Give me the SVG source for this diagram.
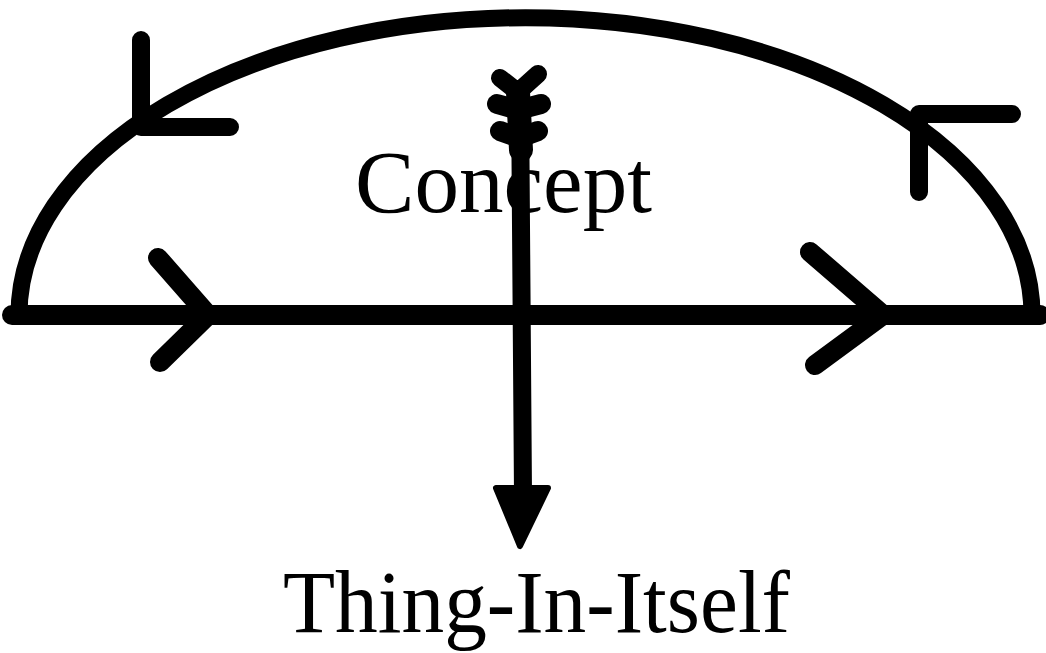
<svg xmlns="http://www.w3.org/2000/svg" width="1046" height="653" viewBox="0 0 1046 653">
  <style>
    .stroke { fill: none; stroke: #000; stroke-linecap: round; stroke-linejoin: round; }
    .label { font-family: "Liberation Serif", "Times New Roman", serif; fill: #000; }
  </style>
  <rect width="1046" height="653" fill="#fff"/>
  <g id="concept">
    <text class="label" x="355" y="212" font-size="89" textLength="297" lengthAdjust="spacingAndGlyphs">Concept</text>
  </g>
  <g id="thing-in-itself">
    <text class="label" x="283" y="632" font-size="88" textLength="507" lengthAdjust="spacingAndGlyphs">Thing-In-Itself</text>
  </g>
  <g id="connectors">
    <!-- dome arc -->
    <path class="stroke" stroke-width="17" d="M 19 315 A 506 297 0 0 1 1032 315"/>
    <!-- base line -->
    <line class="stroke" stroke-width="20" stroke-linecap="butt" x1="12" y1="315" x2="1040" y2="315"/>
    <!-- arc arrowheads (pointing counter-clockwise) -->
    <polyline class="stroke" stroke-width="18" points="141,40 141,127 230,127"/>
    <polyline class="stroke" stroke-width="18" points="919,192 919,114 1012,114"/>
    <!-- base line arrowheads (pointing right) -->
    <polyline class="stroke" stroke-width="20" points="158,258 208,315 160,362"/>
    <polyline class="stroke" stroke-width="20" points="810,252 883,315 815,365"/>
    <!-- vertical arrow -->
    <line class="stroke" stroke-width="18" x1="520" y1="90" x2="523" y2="495"/>
    <polygon fill="#000" stroke="#000" stroke-width="6" stroke-linejoin="round" points="496,488 548,488 520,546"/>
    <!-- fletching -->
    <polyline class="stroke" stroke-width="18" points="500,78 518,92 538,74"/>
    <polyline class="stroke" stroke-width="20" points="497,104 518,110 541,104"/>
    <polyline class="stroke" stroke-width="20" points="500,131 519,138 538,131"/>
    <line class="stroke" stroke-width="24" x1="518" y1="92" x2="521" y2="150"/>
  </g>
</svg>
